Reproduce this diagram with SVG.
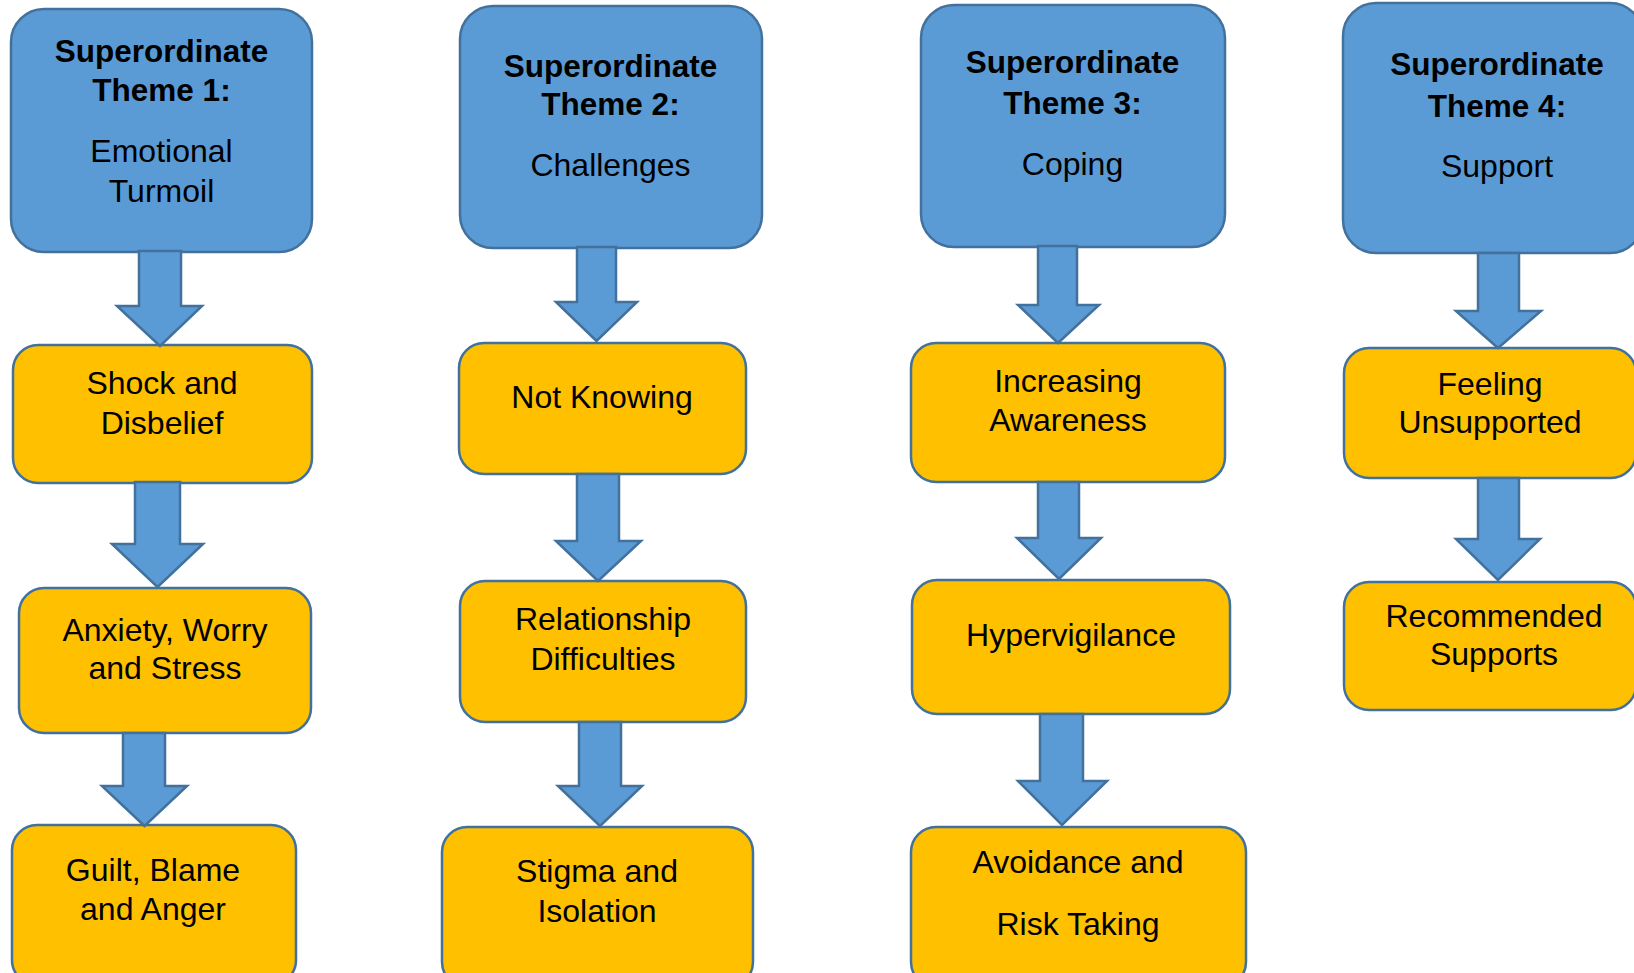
<svg xmlns="http://www.w3.org/2000/svg" width="1634" height="973" viewBox="0 0 1634 973">
  <style>
    .theme { fill: #5B9BD5; stroke: #41719C; stroke-width: 2.5; }
    .sub { fill: #FFC000; stroke: #41719C; stroke-width: 2.5; }
    .arrow { fill: #5B9BD5; stroke: #41719C; stroke-width: 2.5; stroke-linejoin: miter; }
    text { font-family: "Liberation Sans", Arial, sans-serif; font-size: 32px; fill: #000; text-anchor: middle; }
    .b { font-weight: bold; font-size: 31.5px; }
  </style>
  <rect width="1634" height="973" fill="#ffffff"/>

  <!-- Column 1 -->
  <g id="theme1">
    <rect class="theme" x="11" y="9" width="301" height="243" rx="33"/>
    <text class="b" x="161.5" y="62">Superordinate</text>
    <text class="b" x="161.5" y="101">Theme 1:</text>
    <text x="161.5" y="162">Emotional</text>
    <text x="161.5" y="202">Turmoil</text>
  </g>
  <g id="shock">
    <rect class="sub" x="13" y="345" width="299" height="138" rx="25"/>
    <text x="162" y="394">Shock and</text>
    <text x="162" y="433.5">Disbelief</text>
  </g>
  <g id="anxiety">
    <rect class="sub" x="19" y="588" width="292" height="145" rx="25"/>
    <text x="165" y="641">Anxiety, Worry</text>
    <text x="165" y="679">and Stress</text>
  </g>
  <g id="guilt">
    <rect class="sub" x="12" y="825" width="284" height="160" rx="25"/>
    <text x="153" y="881">Guilt, Blame</text>
    <text x="153" y="920">and Anger</text>
  </g>

  <!-- Column 2 -->
  <g id="theme2">
    <rect class="theme" x="460" y="6" width="302" height="242" rx="33"/>
    <text class="b" x="610.5" y="77">Superordinate</text>
    <text class="b" x="610.5" y="115">Theme 2:</text>
    <text x="610.5" y="176">Challenges</text>
  </g>
  <g id="not-knowing">
    <rect class="sub" x="459" y="343" width="287" height="131" rx="25"/>
    <text x="602" y="408">Not Knowing</text>
  </g>
  <g id="relationship">
    <rect class="sub" x="460" y="581" width="286" height="141" rx="25"/>
    <text x="603" y="630">Relationship</text>
    <text x="603" y="670">Difficulties</text>
  </g>
  <g id="stigma">
    <rect class="sub" x="442" y="827" width="311" height="160" rx="25"/>
    <text x="597" y="882">Stigma and</text>
    <text x="597" y="922">Isolation</text>
  </g>

  <!-- Column 3 -->
  <g id="theme3">
    <rect class="theme" x="921" y="5" width="304" height="242" rx="33"/>
    <text class="b" x="1072.5" y="73">Superordinate</text>
    <text class="b" x="1072.5" y="114">Theme 3:</text>
    <text x="1072.5" y="175">Coping</text>
  </g>
  <g id="awareness">
    <rect class="sub" x="911" y="343" width="314" height="139" rx="25"/>
    <text x="1068" y="392">Increasing</text>
    <text x="1068" y="431">Awareness</text>
  </g>
  <g id="hypervigilance">
    <rect class="sub" x="912" y="580" width="318" height="134" rx="25"/>
    <text x="1071" y="646">Hypervigilance</text>
  </g>
  <g id="avoidance">
    <rect class="sub" x="911" y="827" width="335" height="160" rx="25"/>
    <text x="1078" y="873">Avoidance and</text>
    <text x="1078" y="935">Risk Taking</text>
  </g>

  <!-- Column 4 -->
  <g id="theme4">
    <rect class="theme" x="1343" y="3" width="300" height="250" rx="33"/>
    <text class="b" x="1497" y="75">Superordinate</text>
    <text class="b" x="1497" y="117">Theme 4:</text>
    <text x="1497" y="177">Support</text>
  </g>
  <g id="unsupported">
    <rect class="sub" x="1344" y="348" width="292" height="130" rx="25"/>
    <text x="1490" y="395">Feeling</text>
    <text x="1490" y="433">Unsupported</text>
  </g>
  <g id="recommended">
    <rect class="sub" x="1344" y="582" width="292" height="128" rx="25"/>
    <text x="1494" y="627">Recommended</text>
    <text x="1494" y="665">Supports</text>
  </g>

  <!-- Block arrows between levels -->
  <g id="connectors">
    <polygon class="arrow" points="139,251 181,251 181,306 202,306 160,346 117,306 139,306"/>
    <polygon class="arrow" points="135,482 180,482 180,544 203,544 157.5,587 112,544 135,544"/>
    <polygon class="arrow" points="123,733 165,733 165,786 187,786 144.5,826 102,786 123,786"/>

    <polygon class="arrow" points="577,247 616,247 616,302 637,302 596.5,341 556,302 577,302"/>
    <polygon class="arrow" points="577,474 619,474 619,541 641,541 598,581 556,541 577,541"/>
    <polygon class="arrow" points="579,722 621,722 621,786 642,786 600,826 558,786 579,786"/>

    <polygon class="arrow" points="1038,246 1077,246 1077,305 1099,305 1058,343 1018,305 1038,305"/>
    <polygon class="arrow" points="1038,482 1079,482 1079,538 1101,538 1059,579 1017,538 1038,538"/>
    <polygon class="arrow" points="1040,714 1083,714 1083,781 1107,781 1062,825 1018,781 1040,781"/>

    <polygon class="arrow" points="1478,253 1519,253 1519,311 1541,311 1498,348 1456,311 1478,311"/>
    <polygon class="arrow" points="1478,478 1519,478 1519,539 1540,539 1498,580 1456,539 1478,539"/>
  </g>
</svg>
